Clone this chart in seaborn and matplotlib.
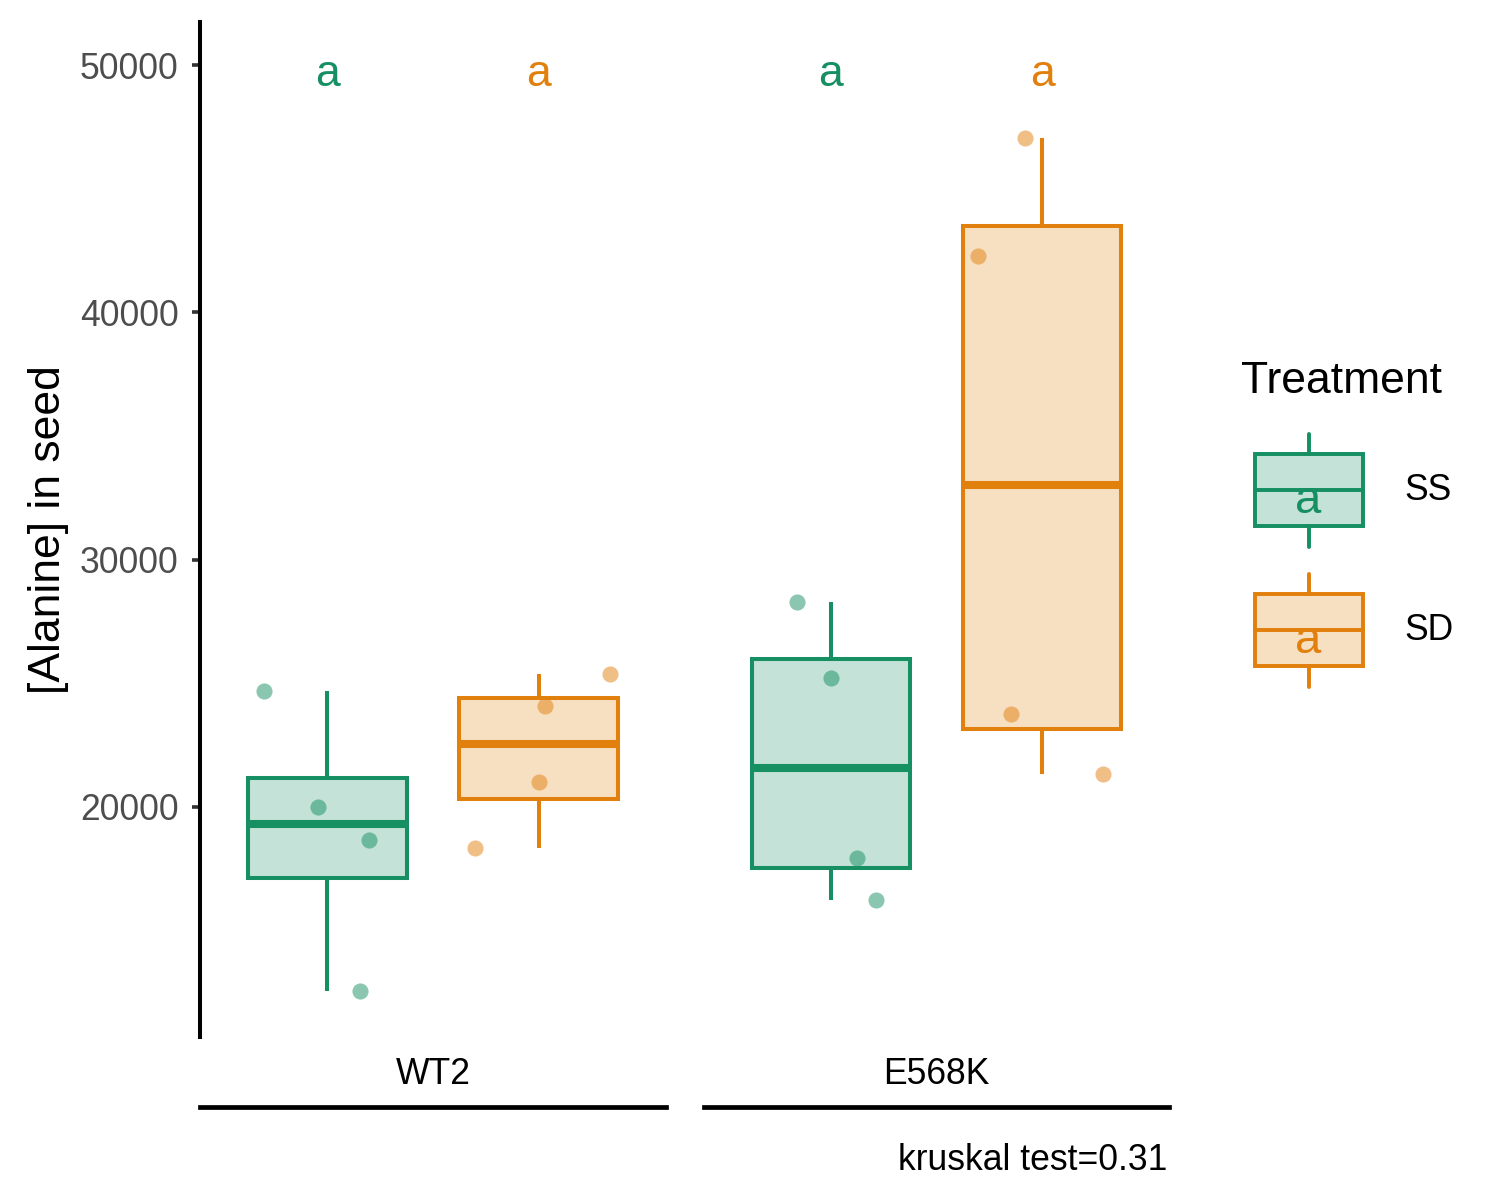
import numpy as np
import pandas as pd
import seaborn as sns
import matplotlib.pyplot as plt
from matplotlib.patches import Patch, Rectangle
from matplotlib.lines import Line2D
from matplotlib.text import Text
from matplotlib.legend_handler import HandlerBase

sns.set_style("white")
plt.rcParams['font.family'] = ['Liberation Sans', 'DejaVu Sans']
plt.rcParams['text.color'] = 'black'
plt.rcParams['axes.labelcolor'] = 'black'

# data
genotypes = ['WT2', 'E568K']
treatments = ['SS', 'SD']
wt2_ss = [24690, 18665, 20000, 12560]
wt2_sd = [25380, 24080, 21010, 18340]
e568k_ss = [28290, 25215, 17940, 16240]
e568k_sd = [47050, 42280, 23760, 21330]
wt2_letters = ['a', 'a']
e568k_letters = ['a', 'a']
letter_y = 50000
caption = 'kruskal test=0.31'

line_colors = {'SS': '#168F63', 'SD': '#E2800E'}

rows = []
for g, t, vals in [('WT2', 'SS', wt2_ss), ('WT2', 'SD', wt2_sd),
                   ('E568K', 'SS', e568k_ss), ('E568K', 'SD', e568k_sd)]:
    for v in vals:
        rows.append({'Genotype': g, 'Treatment': t, 'Alanine': v})
df = pd.DataFrame(rows)
letters = {'WT2': wt2_letters, 'E568K': e568k_letters}


def light(c, a=0.25):
    r, g, b = plt.matplotlib.colors.to_rgb(c)
    return (r, g, b, a)


class BoxKey(HandlerBase):
    # ggplot-like boxplot key with the letter on top
    def create_artists(self, legend, orig_handle, xdescent, ydescent,
                       width, height, fontsize, trans):
        edge = orig_handle.get_edgecolor()
        face = orig_handle.get_facecolor()
        x0, y0 = -xdescent, -ydescent
        cx, cy = x0 + width / 2, y0 + height / 2
        lo, hi = y0 + 0.152 * height, y0 + 0.848 * height
        box = Rectangle((x0 + 0.1 * width, lo), 0.8 * width, hi - lo,
                        facecolor=face, edgecolor=edge, lw=1.42, transform=trans)
        med = Line2D([x0 + 0.1 * width, x0 + 0.9 * width], [cy, cy], color=edge, lw=1.42, transform=trans)
        wlo = Line2D([cx, cx], [y0 - 0.046 * height, lo], color=edge, lw=1.42, transform=trans)
        whi = Line2D([cx, cx], [hi, y0 + 1.046 * height], color=edge, lw=1.42, transform=trans)
        txt = Text(cx, cy - 4.0, 'a', color=edge, fontsize=17, ha='center', va='center', transform=trans)
        return [box, med, wlo, whi, txt]


fig = plt.figure(figsize=(7.5, 6), dpi=200)
W, H = 1500, 1200
axes = [fig.add_axes([200 / W, 1 - 1037 / H, 466 / W, 1015 / H]),
        fig.add_axes([704 / W, 1 - 1037 / H, 465 / W, 1015 / H])]

np.random.seed(7)
for ax, g in zip(axes, genotypes):
    sub = df[df['Genotype'] == g]
    for t in treatments:
        st = sub[sub['Treatment'] == t]
        sns.boxplot(data=st, x='Treatment', y='Alanine', order=treatments, ax=ax,
                    color=line_colors[t], linecolor=line_colors[t], saturation=1,
                    linewidth=1.45, width=0.75, showcaps=False, showfliers=False,
                    boxprops=dict(facecolor=light(line_colors[t])),
                    medianprops=dict(linewidth=2.9))
    for t in treatments:
        st = sub[sub['Treatment'] == t]
        sns.stripplot(data=st, x='Treatment', y='Alanine', order=treatments, ax=ax,
                      color=line_colors[t], alpha=0.5, size=5.8, jitter=0.35,
                      linewidth=0, zorder=5)
    for i, t in enumerate(treatments):
        ax.annotate(letters[g][i], (i, letter_y), xytext=(0, -3.3), textcoords='offset points',
                    color=line_colors[t], fontsize=16, ha='center', va='center')

    ax.set_xlim(-0.6, 1.6)
    ax.set_ylim(10700, 51740)
    ax.set_xlabel('')
    ax.set_ylabel('')
    ax.set_xticks([])
    ax.text(0.5, -37 / 1015, g, transform=ax.transAxes, ha='center', va='center',
            fontsize=12.8, color='black')
    for s in ['top', 'right']:
        ax.spines[s].set_visible(False)
    ax.spines['bottom'].set_position(('outward', 25.2))
    ax.spines['bottom'].set_linewidth(1.7)
    ax.spines['bottom'].set_color('black')

ax1, ax2 = axes
ax1.spines['left'].set_linewidth(1.45)
ax1.spines['left'].set_color('black')
ax1.set_yticks([20000, 30000, 40000, 50000])
ax1.tick_params(axis='y', length=7.6 * 72 / 200, width=1.3, color='#333333',
                labelsize=12.8, labelcolor='#4D4D4D', pad=5, left=True)
ax1.set_ylabel('[Alanine] in seed', fontsize=16, labelpad=4)
ax2.spines['left'].set_visible(False)
ax2.set_yticks([])

handles = [Patch(facecolor=light(line_colors[t]), edgecolor=line_colors[t]) for t in treatments]
leg = fig.legend(handles, treatments, title='Treatment', handler_map={Patch: BoxKey()},
                 loc='upper left', bbox_to_anchor=(1241 / W, 1 - 361 / H),
                 frameon=False, fontsize=12.8, title_fontsize=16,
                 handlelength=3.8, handleheight=4.097, labelspacing=1.03,
                 handletextpad=0.8, borderpad=0, borderaxespad=0, alignment='left')

fig.text(1167 / W, 1 - 1160 / H, caption, ha='right', va='center', fontsize=12.8)

fig.savefig('out.png', dpi=200)
